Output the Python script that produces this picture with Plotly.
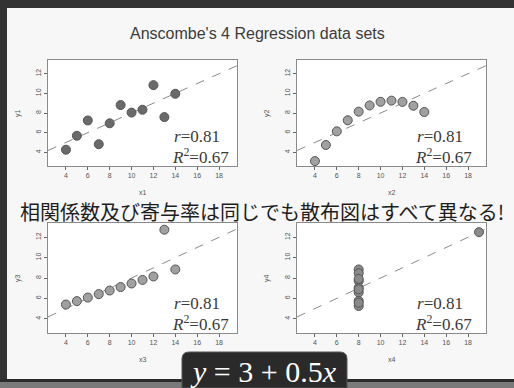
import plotly.graph_objects as go

W, H = 514, 388

# Anscombe's quartet
x1 = [10, 8, 13, 9, 11, 14, 6, 4, 12, 7, 5]
y1 = [8.04, 6.95, 7.58, 8.81, 8.33, 9.96, 7.24, 4.26, 10.84, 4.82, 5.68]
x2 = [10, 8, 13, 9, 11, 14, 6, 4, 12, 7, 5]
y2 = [9.14, 8.14, 8.74, 8.77, 9.26, 8.10, 6.13, 3.10, 9.13, 7.26, 4.74]
x3 = [10, 8, 13, 9, 11, 14, 6, 4, 12, 7, 5]
y3 = [7.46, 6.77, 12.74, 7.11, 7.81, 8.84, 6.08, 5.39, 8.15, 6.42, 5.73]
x4 = [8, 8, 8, 8, 8, 8, 8, 19, 8, 8, 8]
y4 = [6.58, 5.76, 7.71, 8.84, 8.47, 7.04, 5.25, 12.50, 5.56, 7.91, 6.89]

intercept = 3.0
slope = 0.5
r_text = "0.81"
r2_text = "0.67"
x_ticks = [4, 6, 8, 10, 12, 14, 16, 18]
y_ticks = [4, 6, 8, 10, 12]
x_lim = [3, 19]
y_lim = [3, 13]

title_text = "Anscombe's 4 Regression data sets"
subtitle_text = "相関係数及び寄与率は同じでも散布図はすべて異なる!"

def px(v):
    return v / W

def py(v):
    return 1 - v / H

# extend limits by 4% like R
def ext(lim):
    d = (lim[1] - lim[0]) * 0.04
    return [lim[0] - d, lim[1] + d]

xr = ext(x_lim)
yr = ext(y_lim)

panels = [
    dict(x=x1, y=y1, name="1", box=(48, 60, 237, 166), fill="#6a6a6a"),
    dict(x=x2, y=y2, name="2", box=(297, 60, 486, 166), fill="#a0a0a0"),
    dict(x=x3, y=y3, name="3", box=(48, 223, 237, 333), fill="#a0a0a0"),
    dict(x=x4, y=y4, name="4", box=(297, 223, 486, 333), fill="#8a8a8a"),
]

fig = go.Figure()
annotations = []
shapes = []

def ann(x, y, text, size, color, family, xanchor="center", yanchor="middle", **kw):
    d = dict(x=px(x), y=py(y), xref="paper", yref="paper", text=text, showarrow=False,
             xanchor=xanchor, yanchor=yanchor,
             font=dict(size=size, color=color, family=family))
    d.update(kw)
    annotations.append(d)

for i, p in enumerate(panels):
    k = "" if i == 0 else str(i + 1)
    xa, ya = "x" + k, "y" + k
    l, t, r, b = p["box"]
    fig.add_trace(go.Scatter(
        x=xr, y=[intercept + slope * v for v in xr], mode="lines",
        line=dict(color="#8a8a8a", width=1, dash="dash"),
        xaxis=xa, yaxis=ya, showlegend=False, hoverinfo="skip"))
    fig.add_trace(go.Scatter(
        x=p["x"], y=p["y"], mode="markers",
        marker=dict(size=9, color=p["fill"], line=dict(color="#555", width=1)),
        xaxis=xa, yaxis=ya, showlegend=False))
    axis_common = dict(showgrid=False, zeroline=False, showline=True, mirror=True,
                       linecolor="#8a8a8a", linewidth=1, ticks="outside", ticklen=3,
                       tickcolor="#666", tickfont=dict(size=7, color="#555",
                                                       family="Liberation Sans"))
    fig.layout["xaxis" + k] = dict(domain=[px(l), px(r)], range=xr, tickvals=x_ticks,
                                   anchor=ya, **axis_common)
    fig.layout["yaxis" + k] = dict(domain=[py(b), py(t)], range=yr, tickvals=y_ticks,
                                   anchor=xa, tickangle=-90, **axis_common)
    # axis titles
    ann((l + r) / 2, b + 26, "x" + p["name"], 7, "#555", "Liberation Sans")
    ann(l - 30, (t + b) / 2, "y" + p["name"], 7, "#555", "Liberation Sans", textangle=-90)
    # r and R^2
    tx = l + (124 if i in (0, 2) else 118)
    ann(tx, b - 30, "<i>r</i>=" + r_text, 17, "#3a3a3a", "Liberation Serif", xanchor="left")
    ann(tx - 2, b - 10, "<i>R</i><sup>2</sup>=" + r2_text, 17, "#3a3a3a",
        "Liberation Serif", xanchor="left")

ann(257, 33, title_text, 16, "#3c3c3c", "Liberation Sans")
ann(262, 212, subtitle_text, 20, "#1e1e1e", "Noto Sans CJK JP")
ann(263, 371, "<i>y</i> = 3 + 0.5<i>x</i>", 30, "#ffffff", "Liberation Serif")

# frame
shapes.append(dict(type="rect", xref="paper", yref="paper", x0=0, x1=1, y0=py(8), y1=1,
                   fillcolor="#333333", line=dict(width=0), layer="below"))
shapes.append(dict(type="rect", xref="paper", yref="paper", x0=0, x1=px(7), y0=py(380), y1=1,
                   fillcolor="#333333", line=dict(width=0), layer="below"))
shapes.append(dict(type="rect", xref="paper", yref="paper", x0=0, x1=1, y0=py(382), y1=py(379),
                   fillcolor="#2b2b2b", line=dict(width=0), layer="below"))
shapes.append(dict(type="rect", xref="paper", yref="paper", x0=0, x1=1, y0=0, y1=py(382),
                   fillcolor="#7a7a7a", line=dict(width=0), layer="below"))
# equation box (rounded top corners)
bx0, bx1, by0, by1, rad = 182, 347, 352, 388, 7
path = (f"M {px(bx0)} {py(by1)} L {px(bx0)} {py(by0 + rad)} "
        f"Q {px(bx0)} {py(by0)} {px(bx0 + rad)} {py(by0)} "
        f"L {px(bx1 - rad)} {py(by0)} Q {px(bx1)} {py(by0)} {px(bx1)} {py(by0 + rad)} "
        f"L {px(bx1)} {py(by1)} Z")
shapes.append(dict(type="path", xref="paper", yref="paper", path=path,
                   fillcolor="#2a2a2a", line=dict(color="#555", width=1), layer="above"))

fig.update_layout(width=W, height=H, margin=dict(l=0, r=0, t=0, b=0),
                  paper_bgcolor="#f7f7f7", plot_bgcolor="#ffffff",
                  annotations=annotations, shapes=shapes)

fig.write_html("out.html", config={"displayModeBar": False},
               post_script="document.body.style.margin='0';document.body.style.overflow='hidden';")
